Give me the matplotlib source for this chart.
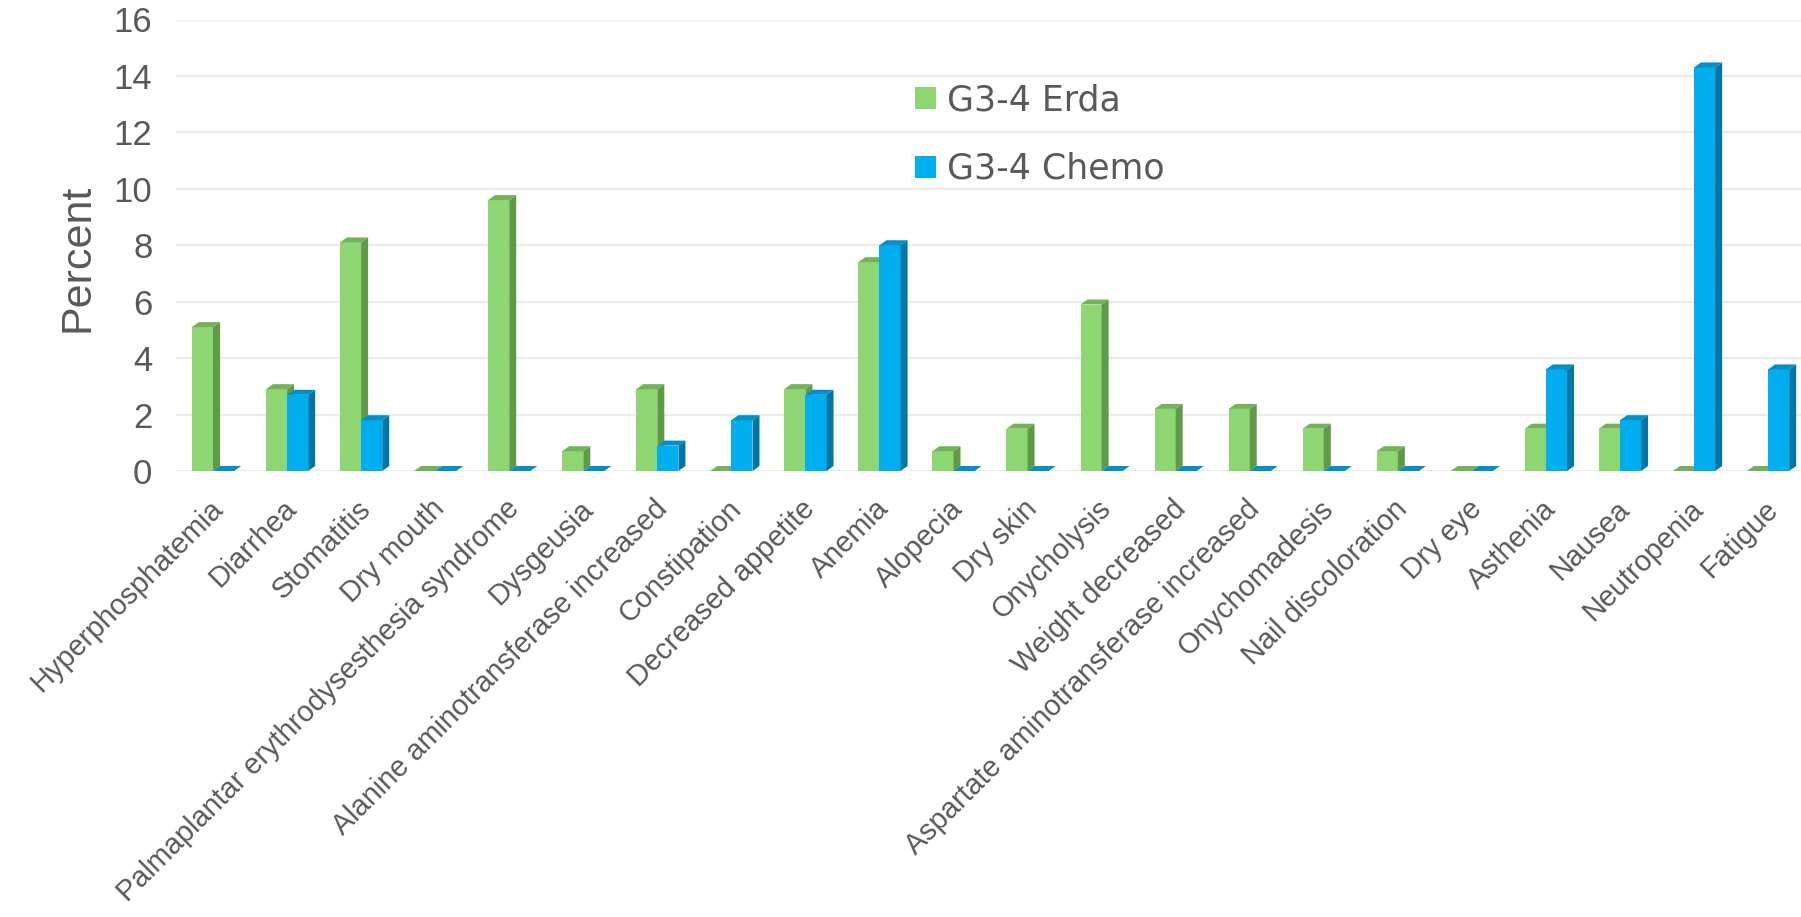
import numpy as np
import matplotlib
matplotlib.use("Agg")
import matplotlib.pyplot as plt
from matplotlib.collections import PolyCollection
from matplotlib.patches import Patch

categories = [
    "Hyperphosphatemia", "Diarrhea", "Stomatitis", "Dry mouth",
    "Palmaplantar erythrodysesthesia syndrome", "Dysgeusia",
    "Alanine aminotransferase increased", "Constipation",
    "Decreased appetite", "Anemia", "Alopecia", "Dry skin", "Onycholysis",
    "Weight decreased", "Aspartate aminotransferase increased",
    "Onychomadesis", "Nail discoloration", "Dry eye", "Asthenia", "Nausea",
    "Neutropenia", "Fatigue",
]
erda = [5.1, 2.9, 8.1, 0, 9.6, 0.7, 2.9, 0, 2.9, 7.4, 0.7, 1.5, 5.9, 2.2,
        2.2, 1.5, 0.7, 0, 1.5, 1.5, 0, 0]
chemo = [0, 2.7, 1.8, 0, 0, 0, 0.9, 1.8, 2.7, 8.0, 0, 0, 0, 0, 0, 0, 0, 0,
         3.6, 1.8, 14.3, 3.6]
series_names = ["G3-4 Erda", "G3-4 Chemo"]
yticks = [0, 2, 4, 6, 8, 10, 12, 14, 16]

W, H, DPI = 1801, 917, 100
fig = plt.figure(figsize=(W / DPI, H / DPI), dpi=DPI)
ax_left, ax_right = 176 / W, 1.0
ax_bottom, ax_top = 1 - 471 / H, 1 - 19.5 / H
ax = fig.add_axes([ax_left, ax_bottom, ax_right - ax_left, ax_top - ax_bottom])

n = len(categories)
x = np.arange(n)
cat_px = 74.05
ax.set_xlim(-0.5, -0.5 + (W - 176) / cat_px)
ax.set_ylim(0, 16)

px_per_unit = (471 - 19.5) / 16
bw = 0.285
dx = 7 / cat_px
dy = 5 / px_per_unit

styles = [
    dict(front="#8DD672", side="#5F9A48", top="#74B25A"),
    dict(front="#00AEEF", side="#0076A6", top="#0090C6"),
]

for s, (vals, lefts) in enumerate([(erda, x - bw), (chemo, x)]):
    st = styles[s]
    z = 3 + s
    bars = ax.bar(lefts, vals, width=bw, align="edge", color=st["front"],
                  linewidth=0, zorder=z, label=series_names[s])
    sides, tops = [], []
    for b in bars:
        xl, w, v = b.get_x(), b.get_width(), b.get_height()
        sides.append([(xl + w, 0), (xl + w + dx, dy), (xl + w + dx, v + dy), (xl + w, v)])
        tops.append([(xl, v), (xl + dx, v + dy), (xl + w + dx, v + dy), (xl + w, v)])
    ax.add_collection(PolyCollection(sides, facecolors=st["side"], linewidths=0, zorder=z))
    ax.add_collection(PolyCollection(tops, facecolors=st["top"], linewidths=0, zorder=z))

ax.set_yticks(yticks)
ax.set_yticklabels([str(t) for t in yticks])
ax.yaxis.grid(True, color="#EBEBEB", linewidth=1.6, zorder=0)
ax.set_axisbelow(True)
for sp in ax.spines.values():
    sp.set_visible(False)
ax.tick_params(axis="y", length=0, pad=17, labelsize=25, labelcolor="#595959")
for lab in ax.get_yticklabels():
    lab.set_fontfamily("Liberation Sans")

ax.set_xticks(x - 0.06)
ax.set_xticklabels(categories, rotation=45, ha="right", va="top",
                   rotation_mode="anchor", fontsize=20.8, color="#595959",
                   fontfamily="Liberation Sans")
ax.tick_params(axis="x", length=0, pad=17)

fig.text(77 / W, 1 - 258 / H, "Percent", rotation=90, ha="center", va="center",
         fontsize=31, color="#595959", fontfamily="Liberation Sans")

handles = [Patch(facecolor=styles[i]["front"], edgecolor="none") for i in range(2)]
leg = fig.legend(handles, series_names, loc="upper left",
                 bbox_to_anchor=(884 / W, 1 - 52 / H), frameon=False,
                 prop={"family": "DejaVu Sans", "size": 25},
                 handlelength=0.6, handleheight=0.6, handletextpad=0.3,
                 labelspacing=1.0, labelcolor="#595959")

fig.savefig("out.png", dpi=DPI)
